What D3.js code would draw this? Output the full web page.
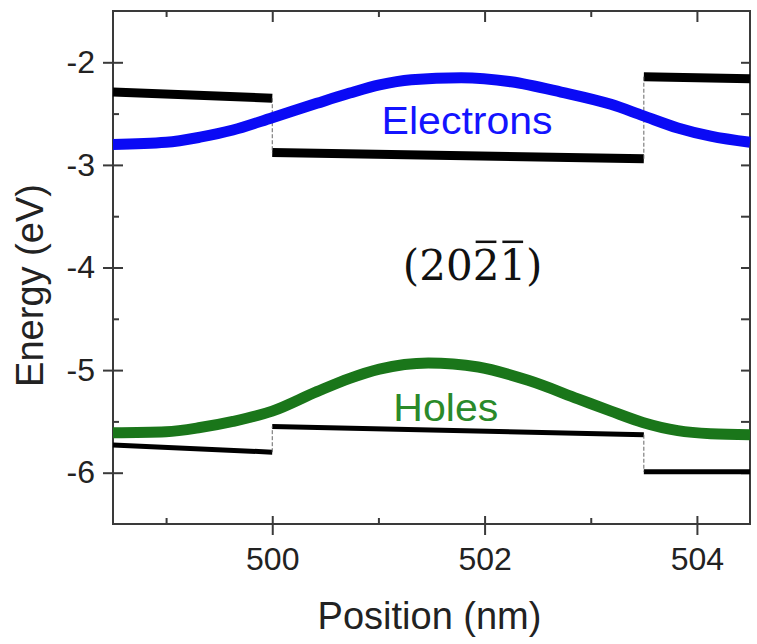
<!DOCTYPE html>
<html>
<head>
<meta charset="utf-8">
<script src="https://cdn.jsdelivr.net/npm/d3@7"></script>
<style>
  body { margin: 0; background: #fff; }
  svg { display: block; }
  text { font-family: "Liberation Sans", Arial, sans-serif; }
</style>
</head>
<body>
<figure id="band" style="margin:0"></figure>
<script>
// electron / hole envelopes
const elecPos = [498.5, 499.0, 499.32, 499.63, 500.0, 500.42, 500.73, 501.01, 501.31, 501.78, 502.25, 502.72, 503.19, 503.49, 503.82, 504.13, 504.5];
const elecE   = [-2.80, -2.78, -2.73, -2.66, -2.54, -2.40, -2.30, -2.22, -2.17, -2.15, -2.19, -2.29, -2.41, -2.52, -2.64, -2.72, -2.78];
const holePos = [498.5, 499.0, 499.32, 499.63, 500.0, 500.42, 500.73, 501.01, 501.47, 501.94, 502.41, 502.88, 503.19, 503.49, 503.82, 504.13, 504.5];
const holeE   = [-5.61, -5.60, -5.56, -5.50, -5.40, -5.21, -5.08, -4.99, -4.93, -4.97, -5.10, -5.28, -5.40, -5.51, -5.59, -5.62, -5.63];

// band edges, one [start, end] pair per layer
const layerPos = [[498.5, 500], [500, 503.5], [503.5, 504.5]];
const cbE = [[-2.29, -2.35], [-2.88, -2.94], [-2.14, -2.16]];
const vbE = [[-5.73, -5.80], [-5.55, -5.63], [-5.99, -5.99]];

const xMajor = [500, 502, 504];
const xMinor = [499, 501, 503];
const yMajor = [-6, -5, -4, -3, -2];
const yMinor = [-5.5, -4.5, -3.5, -2.5];

const width = 757, height = 644;
const pLeft = 113, pRight = 750, pTop = 11, pBottom = 524;

const svg = d3.select("figure#band").append("svg")
  .attr("width", width)
  .attr("height", height);

const x = d3.scaleLinear().domain([498.5, 504.5]).range([pLeft, pRight]);
const y = d3.scaleLinear().domain([-6.5, -1.5]).range([pBottom, pTop]);

// frame
svg.append("rect")
  .attr("x", pLeft).attr("y", pTop)
  .attr("width", pRight - pLeft).attr("height", pBottom - pTop)
  .attr("fill", "none").attr("stroke", "#3a3a3a").attr("stroke-width", 2);

function styleAxis(g) {
  g.select(".domain").remove();
  g.selectAll("line").attr("stroke", "#3a3a3a").attr("stroke-width", 2);
  g.selectAll("text")
    .attr("fill", "#222")
    .style("font-size", "32px")
    .style("font-family", "'Liberation Sans', Arial, sans-serif");
}

// bottom axis, major ticks cross the frame
svg.append("g").attr("transform", `translate(0,${pBottom})`)
  .call(d3.axisBottom(x).tickValues(xMajor).tickSize(11).tickPadding(12).tickFormat(d3.format("d")))
  .call(styleAxis)
  .call(g => g.selectAll(".tick line").attr("y1", -8));
svg.append("g").attr("transform", `translate(0,${pBottom})`)
  .call(d3.axisBottom(x).tickValues(xMinor).tickSize(-6).tickFormat(""))
  .call(styleAxis);

// left axis
svg.append("g").attr("transform", `translate(${pLeft},0)`)
  .call(d3.axisLeft(y).tickValues(yMajor).tickSize(10).tickPadding(8).tickFormat(d => String(d)))
  .call(styleAxis)
  .call(g => g.selectAll(".tick line").attr("x1", 10));
svg.append("g").attr("transform", `translate(${pLeft},0)`)
  .call(d3.axisLeft(y).tickValues(yMinor).tickSize(-6).tickFormat(""))
  .call(styleAxis);

// top and right: inward ticks only
svg.append("g").attr("transform", `translate(0,${pTop})`)
  .call(d3.axisTop(x).tickValues(xMajor).tickSize(-11).tickFormat(""))
  .call(styleAxis);
svg.append("g").attr("transform", `translate(0,${pTop})`)
  .call(d3.axisTop(x).tickValues(xMinor).tickSize(-6).tickFormat(""))
  .call(styleAxis);
svg.append("g").attr("transform", `translate(${pRight},0)`)
  .call(d3.axisRight(y).tickValues(yMajor.concat(yMinor)).tickSize(-9).tickFormat(""))
  .call(styleAxis);

// band edges
const seg = d3.line().x(d => x(d[0])).y(d => y(d[1]));
function drawBand(energies, w) {
  layerPos.forEach((p, i) => {
    svg.append("path")
      .datum([[p[0], energies[i][0]], [p[1], energies[i][1]]])
      .attr("d", seg)
      .attr("fill", "none").attr("stroke", "#000").attr("stroke-width", w);
    if (i > 0) {
      // thin dashed step between layers
      svg.append("path")
        .datum([[p[0], energies[i - 1][1]], [p[0], energies[i][0]]])
        .attr("d", seg)
        .attr("fill", "none").attr("stroke", "#666")
        .attr("stroke-width", 1).attr("stroke-dasharray", "4,2");
    }
  });
}
drawBand(cbE, 9);
drawBand(vbE, 5);

// carrier envelopes
const smooth = d3.line().x(d => x(d[0])).y(d => y(d[1])).curve(d3.curveMonotoneX);
svg.append("path")
  .datum(d3.zip(elecPos, elecE))
  .attr("d", smooth)
  .attr("fill", "none").attr("stroke", "#0a0af5").attr("stroke-width", 11);
svg.append("path")
  .datum(d3.zip(holePos, holeE))
  .attr("d", smooth)
  .attr("fill", "none").attr("stroke", "#1a761a").attr("stroke-width", 11);

// labels
svg.append("text")
  .attr("x", x(501.03)).attr("y", y(-2.70))
  .attr("fill", "#1414ff")
  .style("font-size", "39px")
  .attr("textLength", 171).attr("lengthAdjust", "spacingAndGlyphs")
  .text("Electrons");
svg.append("text")
  .attr("x", x(501.14)).attr("y", y(-5.5))
  .attr("fill", "#2a8a2a")
  .style("font-size", "39px")
  .attr("textLength", 105).attr("lengthAdjust", "spacingAndGlyphs")
  .text("Holes");

const plane = svg.append("text")
  .attr("x", x(501.23)).attr("y", y(-4.12))
  .attr("fill", "#111")
  .style("font-family", "'DejaVu Serif', 'Liberation Serif', serif")
  .style("font-size", "42px")
  .text("(2021)");
// bars over the 3rd and 4th index
[3, 4].forEach(i => {
  const r = plane.node().getExtentOfChar(i);
  svg.append("line")
    .attr("x1", r.x + 3).attr("x2", r.x + r.width - 3)
    .attr("y1", r.y + 1).attr("y2", r.y + 1)
    .attr("stroke", "#111").attr("stroke-width", 2.5);
});

// axis titles
svg.append("text")
  .attr("x", (pLeft + pRight) / 2 - 2).attr("y", 629)
  .attr("text-anchor", "middle")
  .attr("fill", "#222")
  .style("font-size", "38px")
  .text("Position (nm)");
svg.append("text")
  .attr("transform", `translate(43,${(pTop + pBottom) / 2 + 18}) rotate(-90)`)
  .attr("text-anchor", "middle")
  .attr("fill", "#222")
  .style("font-size", "38px")
  .text("Energy (eV)");
</script>
</body>
</html>
